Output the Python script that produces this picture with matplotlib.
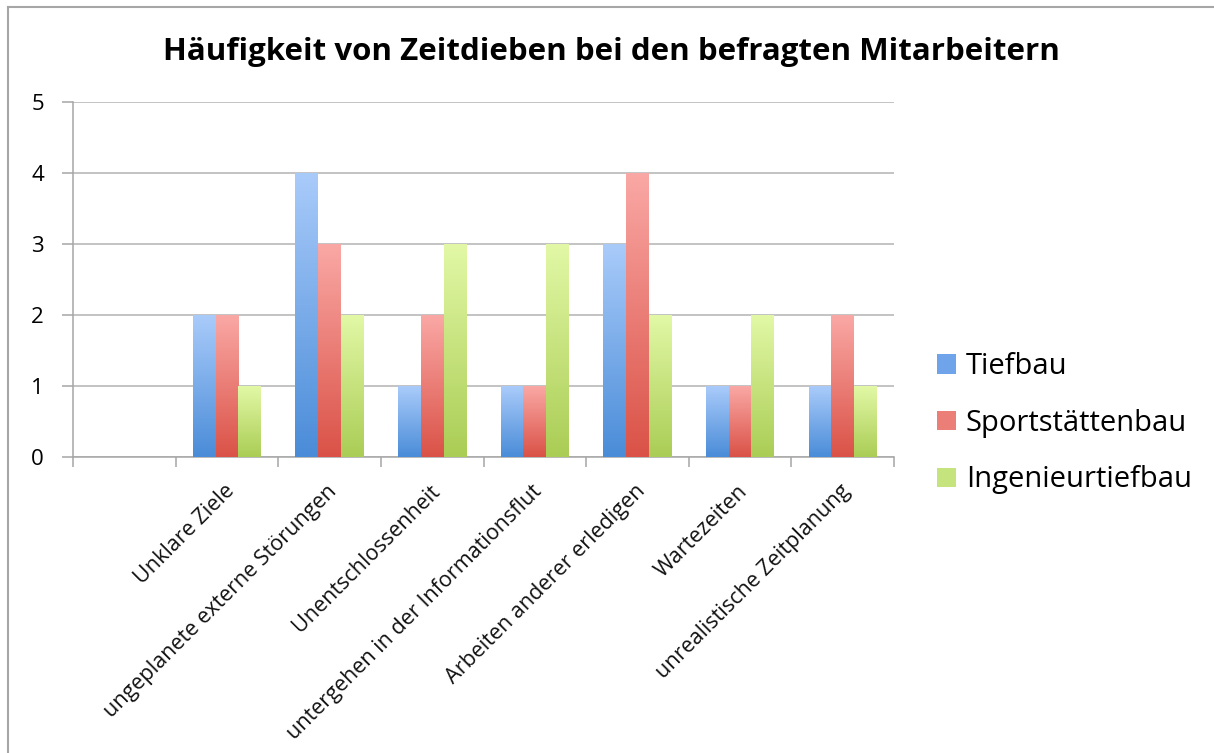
import numpy as np
import matplotlib
matplotlib.use("Agg")
import matplotlib.pyplot as plt
from matplotlib.colors import LinearSegmentedColormap
from matplotlib.lines import Line2D

plt.rcParams['font.family'] = ['Open Sans', 'DejaVu Sans']

# DATA

categories = ["", "Unklare Ziele", "ungeplanete externe Störungen", "Unentschlossenheit",
	"untergehen in der Informationsflut", "Arbeiten anderer erledigen", "Wartezeiten",
	"unrealistische Zeitplanung"]
tiefbau = [np.nan, 2, 4, 1, 1, 3, 1, 1]
sportstaettenbau = [np.nan, 2, 3, 2, 1, 4, 1, 2]
ingenieurtiefbau = [np.nan, 1, 2, 3, 3, 2, 2, 1]
seriesNames = ["Tiefbau", "Sportstättenbau", "Ingenieurtiefbau"]
yTicks = [0, 1, 2, 3, 4, 5]

# (light top, dark bottom)
gradients = [("#a9cbfa", "#4a8cd8"), ("#faa8a5", "#da5247"), ("#e2f8a6", "#aacd55")]

# FIGURE

fig = plt.figure(figsize=(12.14, 7.53), dpi=100)
ax = fig.add_axes([73 / 1214, (753 - 457) / 753, (894 - 73) / 1214, (457 - 102) / 753])

x = np.arange(len(categories))
width = 0.222
offsets = [-width, 0, width]

for values, offset, (light, dark), name in zip([tiefbau, sportstaettenbau, ingenieurtiefbau], offsets, gradients, seriesNames):
	cmap = LinearSegmentedColormap.from_list(name, [dark, light])
	bars = ax.bar(x + offset, values, width, color="none", edgecolor="none", zorder=3)
	for bar in bars:
		h = bar.get_height()
		if np.isnan(h) or h <= 0:
			continue
		x0 = bar.get_x()
		grad = np.linspace(0, 1, 256).reshape(-1, 1)
		im = ax.imshow(grad, cmap=cmap, vmin=0, vmax=1, aspect="auto", origin="lower",
			extent=(x0, x0 + width, 0, h), zorder=3, interpolation="bicubic")
		im.set_clip_path(bar)

ax.set_xlim(-0.5, len(categories) - 0.5)
ax.set_ylim(0, 5)
ax.set_yticks(yTicks)
ax.grid(axis="y", color="#b3b3b3", linewidth=1.1, zorder=0)
ax.set_axisbelow(True)

ax.set_xticks(np.arange(len(categories) + 1) - 0.5)
ax.set_xticklabels([])
ax.tick_params(axis="x", length=7, width=1.1, color="#a6a6a6")
ax.tick_params(axis="y", length=8, width=1.1, color="#a6a6a6", labelsize=16, pad=13)

for lbl, xi in zip(categories, x):
	ax.annotate(lbl, xy=(xi - 0.03, 0), xycoords="data", xytext=(0, -17), textcoords="offset points",
		rotation=45, ha="right", va="top", rotation_mode="anchor", fontsize=15.5, color="#111111")

for side in ["top", "right"]:
	ax.spines[side].set_visible(False)
for side in ["left", "bottom"]:
	ax.spines[side].set_color("#a6a6a6")
	ax.spines[side].set_linewidth(1.1)

fig.text(611 / 1214, 1 - 52 / 753, "Häufigkeit von Zeitdieben bei den befragten Mitarbeitern",
	ha="center", va="center", fontsize=22.5, fontweight="bold")

handles = [plt.Rectangle((0, 0), 1, 1, facecolor=c, edgecolor="none") for c in ["#6fa3ea", "#ec7e78", "#c6e47e"]]
ax.legend(handles, seriesNames, loc="center left", bbox_to_anchor=(1.02, 0.095), frameon=False,
	fontsize=21, handlelength=0.65, handleheight=0.65, handletextpad=0.35, labelspacing=0.95)

# border (top and left only)
fig.add_artist(Line2D([8 / 1214, 8 / 1214], [0, 1 - 7 / 753], transform=fig.transFigure, color="#a6a6a6", linewidth=1.5))
fig.add_artist(Line2D([8 / 1214, 1], [1 - 7 / 753, 1 - 7 / 753], transform=fig.transFigure, color="#a6a6a6", linewidth=1.5))

fig.savefig("out.png", dpi=100)
